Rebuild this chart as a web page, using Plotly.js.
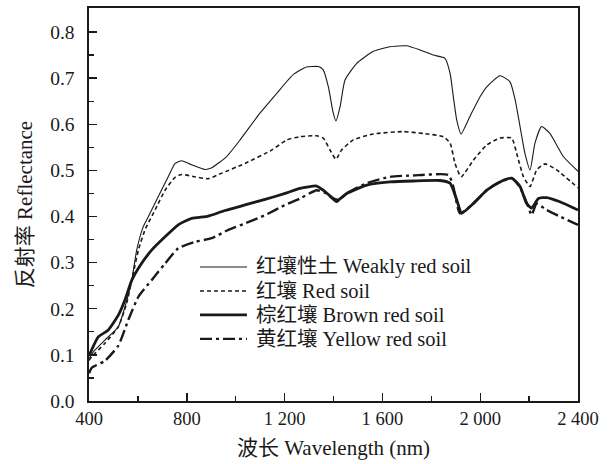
<!DOCTYPE html>
<html><head><meta charset="utf-8">
<script src="https://cdn.plot.ly/plotly-3.0.1.min.js"></script>
<style>body{margin:0;background:#fff}#c{width:612px;height:464px}</style>
</head><body><div id="c"></div>
<script>
const seriesNames = ['红壤性土 Weakly red soil', '红壤 Red soil', '棕红壤 Brown red soil', '黄红壤 Yellow red soil'];

const weakX = [400,420,465,520,547,575,595,622,643,683,724,752,779,820,874,900,963,1018,1099,1168,1236,1290,1338,1358,1379,1399,1410,1427,1447,1495,1563,1631,1699,1754,1808,1856,1877,1890,1904,1922,1958,2000,2027,2081,2122,2143,2163,2183,2204,2224,2251,2285,2340,2400];
const weakY = [0.092,0.108,0.132,0.161,0.204,0.262,0.327,0.378,0.40,0.443,0.486,0.515,0.521,0.512,0.502,0.505,0.53,0.566,0.624,0.667,0.708,0.724,0.725,0.718,0.681,0.624,0.607,0.638,0.696,0.732,0.758,0.768,0.77,0.761,0.75,0.743,0.71,0.66,0.609,0.579,0.617,0.66,0.681,0.705,0.692,0.653,0.595,0.537,0.501,0.559,0.595,0.58,0.53,0.498];

const redX = [400,411,465,520,554,581,602,629,670,711,752,779,834,888,943,1038,1147,1209,1263,1331,1358,1386,1410,1433,1481,1563,1686,1767,1849,1877,1897,1922,1972,2027,2081,2129,2149,2177,2204,2231,2265,2313,2400];
const redY = [0.088,0.096,0.125,0.161,0.212,0.277,0.327,0.371,0.414,0.457,0.485,0.491,0.486,0.482,0.494,0.515,0.544,0.566,0.573,0.575,0.57,0.544,0.524,0.544,0.566,0.579,0.584,0.58,0.573,0.559,0.515,0.486,0.522,0.555,0.57,0.57,0.537,0.486,0.465,0.501,0.514,0.501,0.462];

const brownX = [400,438,479,520,547,575,602,656,711,765,820,888,956,1038,1120,1202,1263,1331,1358,1399,1420,1454,1536,1631,1726,1835,1877,1904,1924,1972,2027,2081,2129,2163,2190,2210,2238,2272,2326,2400];
const brownY = [0.098,0.139,0.154,0.186,0.219,0.262,0.288,0.327,0.356,0.382,0.396,0.401,0.413,0.425,0.437,0.45,0.461,0.466,0.457,0.439,0.436,0.45,0.468,0.475,0.477,0.478,0.472,0.436,0.407,0.428,0.457,0.475,0.483,0.465,0.428,0.418,0.439,0.441,0.432,0.414];

const yellowX = [400,411,465,520,561,602,656,711,765,834,902,970,1038,1120,1202,1263,1331,1372,1413,1454,1536,1631,1726,1870,1890,1917,1972,2027,2081,2129,2163,2197,2210,2231,2272,2326,2400];
const yellowY = [0.06,0.072,0.087,0.12,0.176,0.226,0.262,0.298,0.331,0.345,0.353,0.371,0.385,0.403,0.425,0.439,0.457,0.45,0.432,0.45,0.472,0.486,0.489,0.49,0.465,0.407,0.428,0.457,0.475,0.483,0.463,0.421,0.403,0.428,0.414,0.4,0.382];

const xTickVals = [400,800,1200,1600,2000,2400];
const xTickText = ['400','800','1 200','1 600','2 000','2 400'];
const yTickVals = [0,0.1,0.2,0.3,0.4,0.5,0.6,0.7,0.8];
const yTickText = ['0.0','0.1','0.2','0.3','0.4','0.5','0.6','0.7','0.8'];

const ink = '#1a1a1a';
const fam = '"Liberation Serif","Times New Roman","Noto Sans CJK SC",serif';

const styles = [
  {color:ink, width:1.1},
  {color:ink, width:1.6, dash:'4px,3px'},
  {color:ink, width:2.8},
  {color:ink, width:2.4, dash:'12px,4px,3px,4px'}
];
const xs = [weakX, redX, brownX, yellowX];
const ys = [weakY, redY, brownY, yellowY];

const traces = seriesNames.map((n, i) => ({
  x: xs[i], y: ys[i], name: n, mode: 'lines',
  line: Object.assign({shape:'spline', smoothing:0.5}, styles[i])
}));

// legend drawn inside the plot (sample line + label per row)
const legX0 = 0.227, legX1 = 0.323, legTextX = 0.338;
const legRows = [0.341, 0.280, 0.219, 0.158];
const shapes = seriesNames.map((n, i) => ({
  type:'line', xref:'paper', yref:'paper', x0:legX0, x1:legX1, y0:legRows[i], y1:legRows[i],
  line: Object.assign({}, styles[i])
}));
const annotations = seriesNames.map((n, i) => ({
  xref:'paper', yref:'paper', x:legTextX, y:legRows[i], xanchor:'left', yanchor:'middle',
  text:n, showarrow:false, font:{family:fam, size:20.5, color:ink}
}));

const axisCommon = {
  showline:true, mirror:true, linecolor:ink, linewidth:1.6,
  ticks:'inside', ticklen:8, tickwidth:1.4, tickcolor:ink,
  showgrid:false, zeroline:false
};

const layout = {
  width:612, height:464,
  margin:{l:89, r:34, t:8, b:63},
  paper_bgcolor:'#fff', plot_bgcolor:'#fff',
  font:{family:fam, color:ink},
  showlegend:false,
  shapes: shapes,
  annotations: annotations,
  xaxis: Object.assign({}, axisCommon, {
    range:[400,2400], tickmode:'array', tickvals:xTickVals, ticktext:xTickText,
    tickfont:{family:fam, size:18.5, color:ink},
    minor:{ticks:'inside', ticklen:5, tickwidth:1.2, tickcolor:ink, dtick:200, tick0:400, showgrid:false},
    title:{text:'波长 Wavelength (nm)', font:{family:fam, size:21, color:ink}, standoff:12}
  }),
  yaxis: Object.assign({}, axisCommon, {
    range:[0,0.852], tickmode:'array', tickvals:yTickVals, ticktext:yTickText,
    tickfont:{family:fam, size:19.5, color:ink}, ticklabelstandoff:9,
    minor:{ticks:'inside', ticklen:5, tickwidth:1.2, tickcolor:ink, dtick:0.05, tick0:0, showgrid:false},
    title:{text:'反射率 Reflectance', font:{family:fam, size:21, color:ink}, standoff:12}
  })
};

Plotly.newPlot('c', traces, layout, {displayModeBar:false, staticPlot:true});
</script></body></html>
